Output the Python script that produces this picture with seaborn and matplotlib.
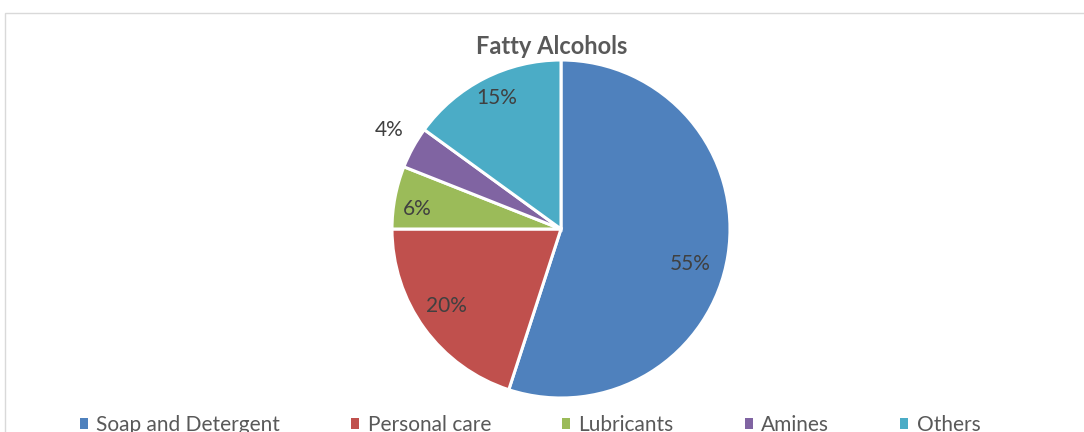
import numpy as np
import matplotlib
matplotlib.use("Agg")
import matplotlib.pyplot as plt
from matplotlib.patches import Patch, Rectangle
import seaborn as sns

# Fatty alcohol end-use shares (%)
categories = ["Soap and Detergent", "Personal care", "Lubricants", "Amines", "Others"]
shares = [55, 20, 6, 4, 15]
colors = ["#4F81BD", "#C0504D", "#9BBB59", "#8064A2", "#4BACC6"]
# label placement: radial fraction of the radius and angular nudge (deg) from the bisector
label_radius = [0.79, 0.82, 0.86, 1.17, 0.86]
label_nudge = [-6.0, -2.0, 2.8, -1.1, -0.9]

sns.set_theme(style="white")
plt.rcParams["font.family"] = ["Lato", "DejaVu Sans"]

W, H, DPI = 1084, 432, 100
fig = plt.figure(figsize=(W / DPI, H / DPI), dpi=DPI)
fig.patch.set_facecolor("white")

# chart area border
fig.add_artist(Rectangle((4.5 / W, -0.1), 1.2, (H - 12.5) / H + 0.1,
                         transform=fig.transFigure, fill=False,
                         edgecolor="#D9D9D9", linewidth=1.0))

# pie axes: centre (561, 229) px from top-left
R = 169
cx, cy = 561, H - 229
half = 1.25 * R
ax = fig.add_axes([(cx - half) / W, (cy - half) / H, 2 * half / W, 2 * half / H])

wedges, _ = ax.pie(shares, colors=colors, startangle=90, counterclock=False,
                   radius=1.0, wedgeprops=dict(edgecolor="white", linewidth=2.2))
ax.set_xlim(-1.25, 1.25)
ax.set_ylim(-1.25, 1.25)
ax.set_aspect("equal")
ax.axis("off")

total = float(sum(shares))
cum = 0.0
for val, rr, nd in zip(shares, label_radius, label_nudge):
    mid = (cum + val / 2) / total
    ang = np.deg2rad(90 - 360 * mid + nd)
    ax.text(rr * np.cos(ang), rr * np.sin(ang), f"{val}%", ha="center", va="center",
            fontsize=15, color="#404040")
    cum += val

fig.text(552 / W, (H - 47) / H, "Fatty Alcohols", ha="center", va="center",
         fontsize=17, fontweight="bold", color="#595959")

handles = [Patch(facecolor=c, edgecolor="none") for c in colors]
fig.legend(handles, categories, loc="center", bbox_to_anchor=(530 / W, 7 / H),
           ncol=5, frameon=False, fontsize=15, handlelength=0.4, handleheight=0.4,
           handletextpad=0.4, columnspacing=3.4, labelcolor="#595959")

fig.savefig("out.png", dpi=DPI, facecolor="white")
